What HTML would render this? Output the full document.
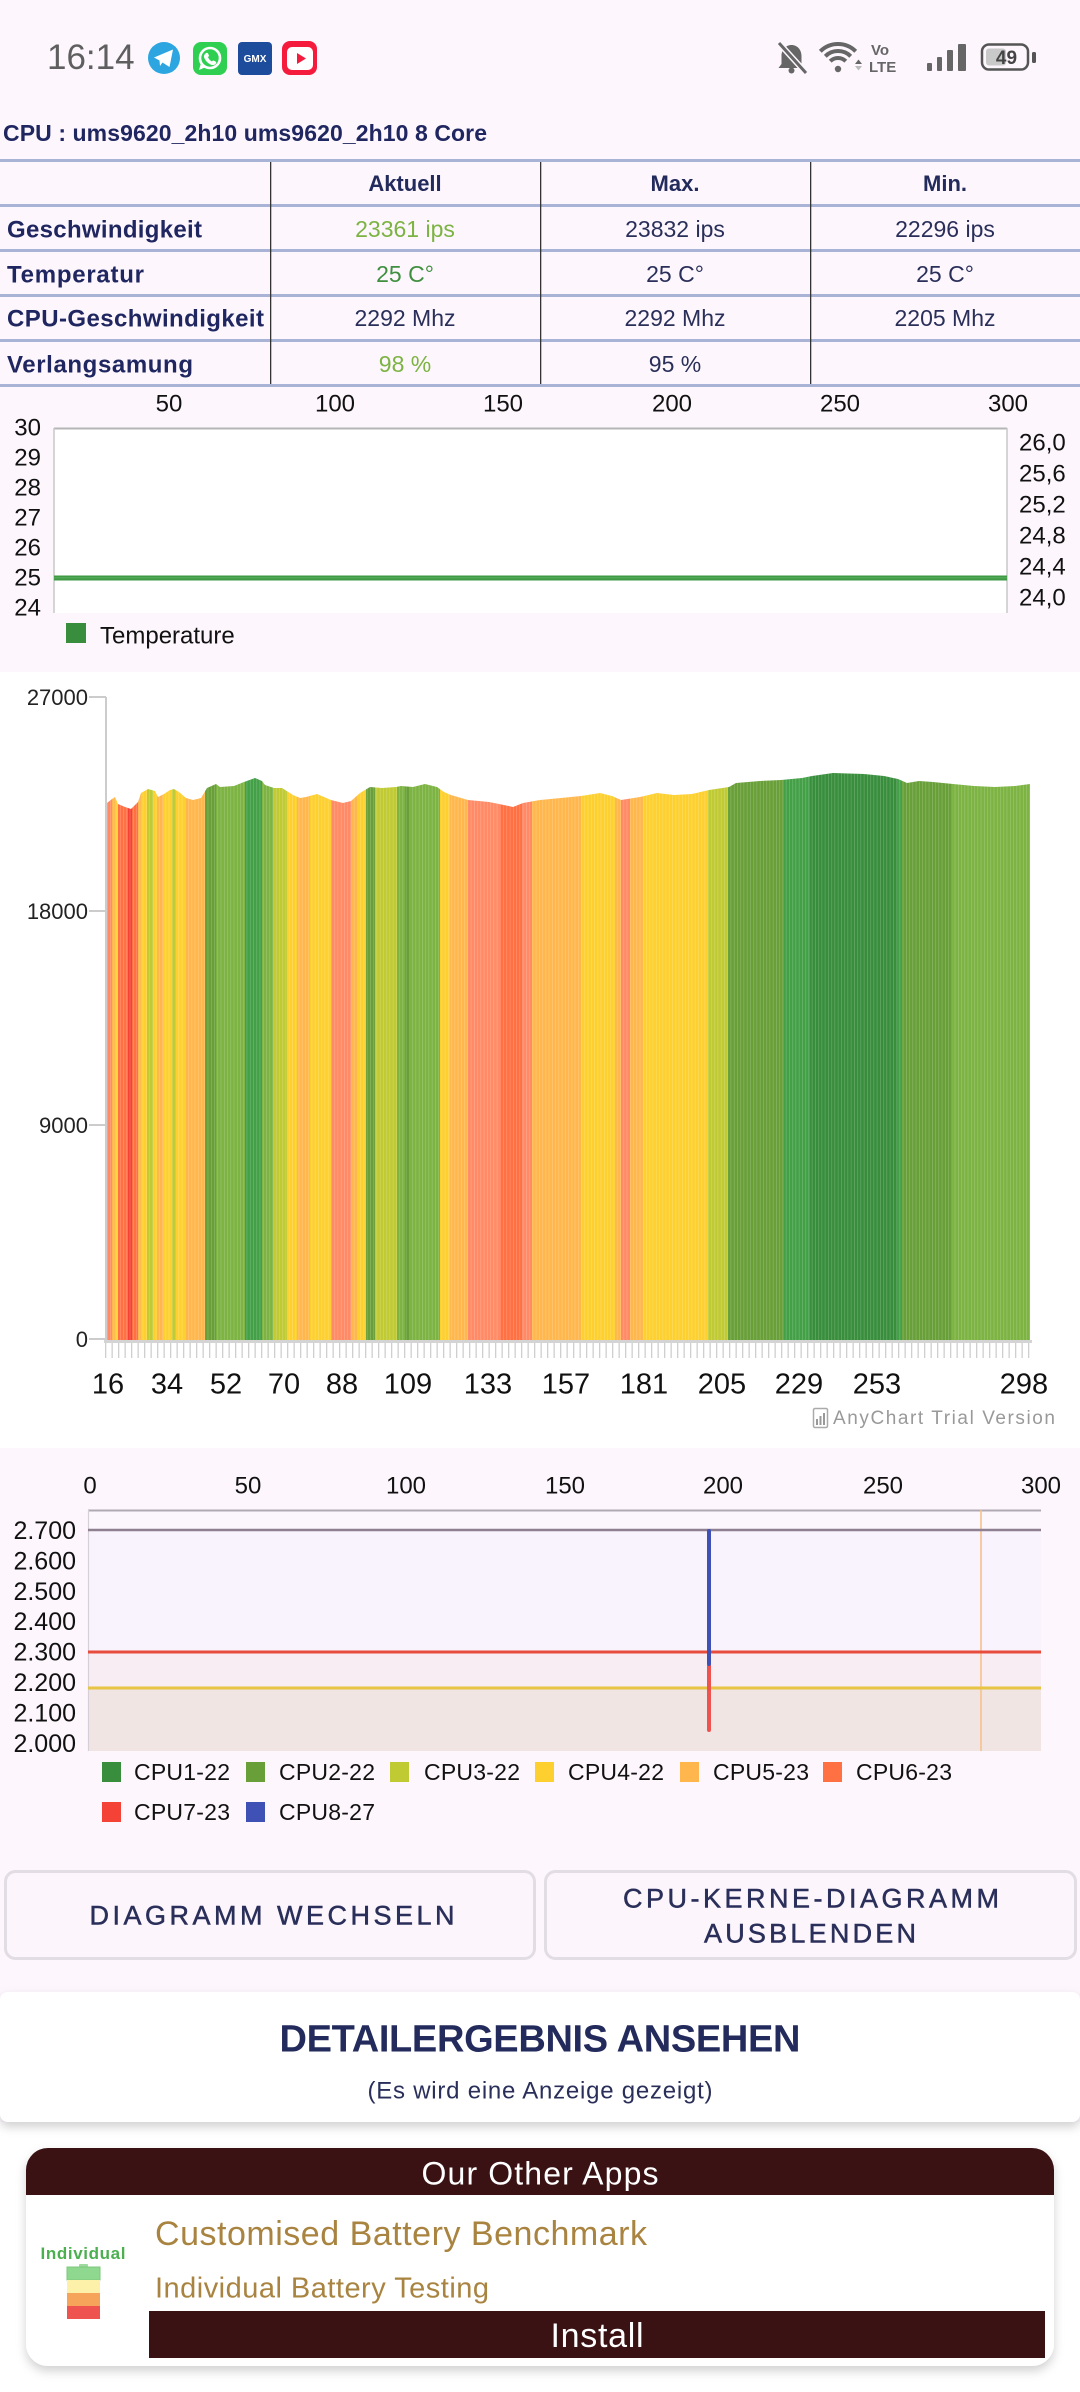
<!DOCTYPE html>
<html><head><meta charset="utf-8">
<style>
html,body{margin:0;padding:0;background:#fdf7fd;}
body{width:1080px;height:2392px;overflow:hidden;}
svg{display:block;font-family:"Liberation Sans",Arial,sans-serif;}
</style></head>
<body>
<svg width="1080" height="2392" viewBox="0 0 1080 2392" xmlns="http://www.w3.org/2000/svg">
<defs>
<clipPath id="bc"><polygon points="107,803 112,799 115,797 118,804 125,807 131,809 136,804 138,802 141,793 148,789 155,791 158,797 164,794 170,790 174,789 179,792 186,798 193,800 201,798 207,788 216,784 220,787 234,786 244,782 255,778 262,781 265,785 274,788 282,788 293,795 300,798 306,797 317,794 331,800 343,803 351,801 360,793 370,787 382,788 396,787 401,786 413,787 425,784 437,787 444,792 451,795 468,800 489,802 499,804 513,807 523,803 540,800 561,798 581,796 600,793 612,796 621,800 640,797 657,793 674,795 692,794 709,790 729,787 736,783 760,781 781,780 802,778 812,776 833,773 864,774 884,776 898,779 907,783 919,781 933,782 953,784 974,786 995,787 1015,786 1030,784 1030,1340 107,1340"/></clipPath>
<pattern id="stripes" x="107" y="0" width="3.248" height="10" patternUnits="userSpaceOnUse"><rect x="0" y="0" width="0.6" height="10" fill="#ffffff" fill-opacity="0.28"/></pattern>
<pattern id="ticks" x="105" y="0" width="6.5" height="20" patternUnits="userSpaceOnUse"><rect x="0" y="0" width="1.3" height="20" fill="#cfcfcf"/></pattern>
<filter id="sh" x="-5%" y="-20%" width="110%" height="150%"><feDropShadow dx="0" dy="5" stdDeviation="5" flood-color="#000" flood-opacity="0.18"/></filter>
</defs>

<!-- page background -->
<rect x="0" y="0" width="1080" height="2392" fill="#fdf7fd"/>

<!-- STATUS BAR -->
<text x="47" y="69" font-size="35" fill="#5f5f5f">16:14</text>
<circle cx="164" cy="58" r="16" fill="#2ca5e0"/>
<polygon points="154,57.5 173,49.5 169.5,67 162.5,62.5 160,66 159.5,60.5" fill="#fff"/>
<rect x="193" y="42" width="34" height="33" rx="8" fill="#2fcf52"/>
<circle cx="210" cy="58" r="10" fill="none" stroke="#fff" stroke-width="2.6"/>
<polygon points="201,63 199,70 206,67" fill="#fff"/>
<path d="M205.5,53.5 q1.5,-1.5 2.5,0 l1,2 q0,1 -1,1.5 q1,3 4,4.5 q0.5,-1 1.5,-1 l2,1 q1.5,1 0,2.5 q-2,2 -5,0.5 q-4,-2 -6,-6 q-1.5,-3 1,-5z" fill="#fff"/>
<rect x="238" y="42" width="34" height="33" rx="4" fill="#1d4c9c"/>
<text x="255" y="62" font-size="10" font-weight="bold" fill="#fff" text-anchor="middle">GMX</text>
<rect x="282" y="41" width="35" height="34" rx="8" fill="#f51b3d"/>
<rect x="287" y="47" width="26" height="23" rx="5" fill="#fff"/>
<polygon points="297,53 297,64 306,58.5" fill="#f51b3d"/>

<path d="M791.5,45 c-6,0 -10,5 -10,11 v8 l-3,4 h26 l-3,-4 v-8 c0,-6 -4,-11 -10,-11z" fill="#666"/>
<circle cx="791.5" cy="70.5" r="3" fill="#666"/>
<line x1="778" y1="42" x2="807" y2="74" stroke="#fdf7fd" stroke-width="6"/>
<line x1="779" y1="43" x2="806" y2="73" stroke="#666" stroke-width="3"/>
<circle cx="838" cy="69" r="3.2" fill="#666"/>
<path d="M830.2,61.2 A11,11 0 0 1 845.8,61.2" fill="none" stroke="#666" stroke-width="4"/>
<path d="M825.3,56.3 A18,18 0 0 1 850.7,56.3" fill="none" stroke="#666" stroke-width="4"/>
<path d="M820.3,51.3 A25,25 0 0 1 855.7,51.3" fill="none" stroke="#666" stroke-width="4"/>
<polygon points="855,64 858.5,59.5 862,64" fill="#666"/>
<polygon points="855,66 858.5,70.5 862,66" fill="#bbb"/>
<text x="871" y="55" font-size="15" font-weight="bold" fill="#666">Vo</text>
<text x="869" y="72" font-size="15" font-weight="bold" fill="#666">LTE</text>
<rect x="927" y="63" width="5" height="8" rx="1" fill="#666"/>
<rect x="937" y="57" width="5" height="14" rx="1" fill="#666"/>
<rect x="947" y="50" width="6" height="21" rx="1" fill="#666"/>
<rect x="958" y="44" width="8" height="27" rx="1" fill="#666"/>
<rect x="982" y="44.5" width="46" height="25" rx="7" fill="none" stroke="#555" stroke-width="2.5"/>
<rect x="986" y="48.5" width="20" height="17" rx="3" fill="#c9c9c9"/>
<rect x="1032" y="52" width="4" height="11" rx="1.5" fill="#555"/>
<text x="1006.5" y="64" font-size="19" font-weight="bold" fill="#444" text-anchor="middle">49</text>

<!-- CPU HEADER -->
<text x="3" y="141" font-size="23" font-weight="bold" fill="#1f2660" textLength="484">CPU : ums9620_2h10 ums9620_2h10 8 Core</text>

<!-- TABLE -->
<g fill="#a9b3d5">
<rect x="0" y="159" width="1080" height="3"/>
<rect x="0" y="204" width="1080" height="3"/>
<rect x="0" y="249" width="1080" height="3"/>
<rect x="0" y="294" width="1080" height="3"/>
<rect x="0" y="339" width="1080" height="3"/>
<rect x="0" y="384" width="1080" height="3"/>
</g>
<g fill="#333">
<rect x="270" y="162" width="1.3" height="222"/>
<rect x="540" y="162" width="1.3" height="222"/>
<rect x="810" y="162" width="1.3" height="222"/>
</g>
<g font-size="22" font-weight="bold" fill="#232a5c" text-anchor="middle">
<text x="405" y="191">Aktuell</text>
<text x="675" y="191">Max.</text>
<text x="945" y="191">Min.</text>
</g>
<g font-size="24" font-weight="bold" fill="#1f2660">
<text x="7" y="237.6" textLength="195">Geschwindigkeit</text>
<text x="7" y="282.6" textLength="137">Temperatur</text>
<text x="7" y="326.6" textLength="257">CPU-Geschwindigkeit</text>
<text x="7" y="372.6" textLength="186">Verlangsamung</text>
</g>
<g font-size="23" text-anchor="middle" fill="#2a2f5a">
<text x="405" y="237.2" fill="#7cb342">23361 ips</text>
<text x="675" y="237.2">23832 ips</text>
<text x="945" y="237.2">22296 ips</text>
<text x="405" y="282.2" fill="#3f8f3f">25 C°</text>
<text x="675" y="282.2">25 C°</text>
<text x="945" y="282.2">25 C°</text>
<text x="405" y="326.2">2292 Mhz</text>
<text x="675" y="326.2">2292 Mhz</text>
<text x="945" y="326.2">2205 Mhz</text>
<text x="405" y="372.2" fill="#7cb342">98 %</text>
<text x="675" y="372.2">95 %</text>
</g>

<!-- TEMPERATURE CHART -->
<g font-size="24" fill="#111" text-anchor="middle">
<text x="169" y="411.6">50</text>
<text x="335" y="411.6">100</text>
<text x="503" y="411.6">150</text>
<text x="672" y="411.6">200</text>
<text x="840" y="411.6">250</text>
<text x="1008" y="411.6">300</text>
</g>
<rect x="54" y="428" width="953" height="185" fill="#fff"/>
<line x1="54" y1="428.5" x2="1007" y2="428.5" stroke="#b5b5b5" stroke-width="2"/>
<line x1="54" y1="428" x2="54" y2="613" stroke="#c8c8c8" stroke-width="1.5"/>
<line x1="1007" y1="428" x2="1007" y2="613" stroke="#c8c8c8" stroke-width="1.5"/>
<rect x="54" y="575.5" width="953" height="5" fill="#3f9a44"/>
<rect x="54" y="577" width="953" height="1.5" fill="#5cb060" opacity="0.6"/>
<g font-size="24" fill="#111" text-anchor="end">
<text x="41" y="435.6">30</text>
<text x="41" y="465.6">29</text>
<text x="41" y="495.6">28</text>
<text x="41" y="525.6">27</text>
<text x="41" y="555.6">26</text>
<text x="41" y="585.6">25</text>
<text x="41" y="615.6">24</text>
</g>
<g font-size="24" fill="#111">
<text x="1019" y="450.6">26,0</text>
<text x="1019" y="481.6">25,6</text>
<text x="1019" y="512.6">25,2</text>
<text x="1019" y="543.6">24,8</text>
<text x="1019" y="574.6">24,4</text>
<text x="1019" y="605.6">24,0</text>
</g>
<rect x="66" y="623" width="20" height="20" fill="#388e3c"/>
<text x="100" y="643.6" font-size="24" fill="#111">Temperature</text>

<!-- BAR CHART SECTION -->
<rect x="0" y="672" width="1080" height="776" fill="#fff"/>
<g clip-path="url(#bc)">
<rect x="107" y="760" width="5" height="580" fill="#ff8a65"/>
<rect x="112" y="760" width="3" height="580" fill="#ffb74d"/>
<rect x="115" y="760" width="3" height="580" fill="#fdd030"/>
<rect x="118" y="760" width="10" height="580" fill="#ff7043"/>
<rect x="128" y="760" width="4" height="580" fill="#f44336"/>
<rect x="132" y="760" width="6" height="580" fill="#ff7043"/>
<rect x="138" y="760" width="3" height="580" fill="#ffb74d"/>
<rect x="141" y="760" width="6" height="580" fill="#fdd030"/>
<rect x="147" y="760" width="6" height="580" fill="#c0ca33"/>
<rect x="153" y="760" width="4" height="580" fill="#fdd030"/>
<rect x="157" y="760" width="6" height="580" fill="#ffb74d"/>
<rect x="163" y="760" width="9" height="580" fill="#fdd030"/>
<rect x="172" y="760" width="4" height="580" fill="#c0ca33"/>
<rect x="176" y="760" width="9" height="580" fill="#fdd030"/>
<rect x="185" y="760" width="20" height="580" fill="#ffb74d"/>
<rect x="205" y="760" width="11" height="580" fill="#689f38"/>
<rect x="216" y="760" width="29" height="580" fill="#7cb342"/>
<rect x="245" y="760" width="17" height="580" fill="#43a047"/>
<rect x="262" y="760" width="11" height="580" fill="#7cb342"/>
<rect x="273" y="760" width="14" height="580" fill="#c0ca33"/>
<rect x="287" y="760" width="10" height="580" fill="#fdd030"/>
<rect x="297" y="760" width="13" height="580" fill="#ffb74d"/>
<rect x="310" y="760" width="21" height="580" fill="#fdd030"/>
<rect x="331" y="760" width="20" height="580" fill="#ff8a65"/>
<rect x="351" y="760" width="7" height="580" fill="#ffb74d"/>
<rect x="358" y="760" width="8" height="580" fill="#fdd030"/>
<rect x="366" y="760" width="9" height="580" fill="#689f38"/>
<rect x="375" y="760" width="22" height="580" fill="#c0ca33"/>
<rect x="397" y="760" width="8" height="580" fill="#7cb342"/>
<rect x="405" y="760" width="5" height="580" fill="#689f38"/>
<rect x="410" y="760" width="30" height="580" fill="#7cb342"/>
<rect x="440" y="760" width="10" height="580" fill="#fdd030"/>
<rect x="450" y="760" width="18" height="580" fill="#ffb74d"/>
<rect x="468" y="760" width="32" height="580" fill="#ff8a65"/>
<rect x="500" y="760" width="22" height="580" fill="#ff7043"/>
<rect x="522" y="760" width="10" height="580" fill="#ff8a65"/>
<rect x="532" y="760" width="49" height="580" fill="#ffb74d"/>
<rect x="581" y="760" width="34" height="580" fill="#fdd030"/>
<rect x="615" y="760" width="6" height="580" fill="#ffb74d"/>
<rect x="621" y="760" width="9" height="580" fill="#ff8a65"/>
<rect x="630" y="760" width="13" height="580" fill="#ffb74d"/>
<rect x="643" y="760" width="65" height="580" fill="#fdd030"/>
<rect x="708" y="760" width="20" height="580" fill="#c0ca33"/>
<rect x="728" y="760" width="56" height="580" fill="#689f38"/>
<rect x="784" y="760" width="26" height="580" fill="#43a047"/>
<rect x="810" y="760" width="87" height="580" fill="#388e3c"/>
<rect x="897" y="760" width="5" height="580" fill="#43a047"/>
<rect x="902" y="760" width="50" height="580" fill="#689f38"/>
<rect x="952" y="760" width="78" height="580" fill="#7cb342"/>
<rect x="107" y="760" width="923" height="580" fill="url(#stripes)"/>
</g>
<line x1="106" y1="697" x2="106" y2="1341" stroke="#cccccc" stroke-width="2"/>
<g stroke="#cccccc" stroke-width="2">
<line x1="89" y1="697" x2="106" y2="697"/>
<line x1="89" y1="911" x2="106" y2="911"/>
<line x1="89" y1="1125" x2="106" y2="1125"/>
<line x1="89" y1="1339" x2="106" y2="1339"/>
</g>
<g font-size="22" fill="#222" text-anchor="end">
<text x="88" y="704.9">27000</text>
<text x="88" y="918.9">18000</text>
<text x="88" y="1132.9">9000</text>
<text x="88" y="1346.9">0</text>
</g>
<rect x="104" y="1340" width="928" height="3" fill="#d4d4d4"/>
<rect x="105" y="1343" width="927" height="15" fill="url(#ticks)"/>
<g font-size="29" fill="#111" text-anchor="middle">
<text x="108" y="1393.4">16</text>
<text x="167" y="1393.4">34</text>
<text x="226" y="1393.4">52</text>
<text x="284" y="1393.4">70</text>
<text x="342" y="1393.4">88</text>
<text x="408" y="1393.4">109</text>
<text x="488" y="1393.4">133</text>
<text x="566" y="1393.4">157</text>
<text x="644" y="1393.4">181</text>
<text x="722" y="1393.4">205</text>
<text x="799" y="1393.4">229</text>
<text x="877" y="1393.4">253</text>
<text x="1024" y="1393.4">298</text>
</g>
<rect x="813.5" y="1408.5" width="14" height="19" rx="1.5" fill="#fff" stroke="#aaa" stroke-width="1.5"/>
<rect x="816" y="1419" width="2" height="6" fill="#999"/>
<rect x="819.5" y="1416" width="2" height="9" fill="#999"/>
<rect x="823" y="1413" width="2" height="12" fill="#999"/>
<text x="833" y="1424" font-size="19" fill="#999" textLength="222">AnyChart Trial Version</text>

<!-- CPU CHART -->
<g font-size="24" fill="#111" text-anchor="middle">
<text x="90" y="1493.6">0</text>
<text x="248" y="1493.6">50</text>
<text x="406" y="1493.6">100</text>
<text x="565" y="1493.6">150</text>
<text x="723" y="1493.6">200</text>
<text x="883" y="1493.6">250</text>
<text x="1041" y="1493.6">300</text>
</g>
<rect x="88" y="1510" width="953" height="241" fill="#fbf7fd"/>
<rect x="88" y="1530" width="953" height="122" fill="#f8f3fc"/>
<rect x="88" y="1652" width="953" height="36" fill="#f8edf2"/>
<rect x="88" y="1688" width="953" height="63" fill="#f1e5e4"/>
<line x1="88" y1="1510.5" x2="1041" y2="1510.5" stroke="#b0a9b4" stroke-width="2"/>
<line x1="88.5" y1="1510" x2="88.5" y2="1751" stroke="#d5cfd8" stroke-width="1.2"/>
<line x1="981" y1="1510" x2="981" y2="1751" stroke="#f7c18a" stroke-width="1.6"/>
<line x1="88" y1="1530" x2="1041" y2="1530" stroke="#8e8090" stroke-width="2.5"/>
<line x1="88" y1="1652" x2="1041" y2="1652" stroke="#e84c3d" stroke-width="3"/>
<line x1="88" y1="1688" x2="1041" y2="1688" stroke="#e8c444" stroke-width="3"/>
<line x1="709" y1="1666" x2="709" y2="1730" stroke="#ef5350" stroke-width="4" stroke-linecap="round"/>
<line x1="709" y1="1531" x2="709" y2="1664" stroke="#3f51b5" stroke-width="4" stroke-linecap="round"/>
<g font-size="25" fill="#111" text-anchor="end">
<text x="76" y="1539">2.700</text>
<text x="76" y="1569.4">2.600</text>
<text x="76" y="1599.8">2.500</text>
<text x="76" y="1630.2">2.400</text>
<text x="76" y="1660.6">2.300</text>
<text x="76" y="1691">2.200</text>
<text x="76" y="1721.4">2.100</text>
<text x="76" y="1751.8">2.000</text>
</g>
<rect x="102" y="1762" width="19" height="20" fill="#388e3c"/>
<rect x="246" y="1762" width="19" height="20" fill="#689f38"/>
<rect x="390" y="1762" width="19" height="20" fill="#c0ca33"/>
<rect x="535" y="1762" width="19" height="20" fill="#fdd030"/>
<rect x="680" y="1762" width="19" height="20" fill="#ffb74d"/>
<rect x="823" y="1762" width="19" height="20" fill="#ff7043"/>
<rect x="102" y="1802" width="19" height="20" fill="#f44336"/>
<rect x="246" y="1802" width="19" height="20" fill="#3f51b5"/>
<g font-size="23" fill="#111">
<text x="134" y="1780.2" textLength="96">CPU1-22</text>
<text x="279" y="1780.2" textLength="96">CPU2-22</text>
<text x="424" y="1780.2" textLength="96">CPU3-22</text>
<text x="568" y="1780.2" textLength="96">CPU4-22</text>
<text x="713" y="1780.2" textLength="96">CPU5-23</text>
<text x="856" y="1780.2" textLength="96">CPU6-23</text>
<text x="134" y="1820.2" textLength="96">CPU7-23</text>
<text x="279" y="1820.2" textLength="96">CPU8-27</text>
</g>

<!-- BUTTONS -->
<rect x="5.5" y="1871.5" width="529" height="87" rx="10" fill="#fcf5fc" stroke="#e2dce4" stroke-width="3"/>
<rect x="545.5" y="1871.5" width="530" height="87" rx="10" fill="#fcf5fc" stroke="#e2dce4" stroke-width="3"/>
<g font-size="27" fill="#2a2f5a" text-anchor="middle" stroke="#2a2f5a" stroke-width="0.5">
<text x="272" y="1924.7" textLength="365">DIAGRAMM WECHSELN</text>
<text x="811" y="1907.7" textLength="376">CPU-KERNE-DIAGRAMM</text>
<text x="810" y="1942.7" textLength="212">AUSBLENDEN</text>
</g>

<!-- DETAIL CARD -->
<rect x="0" y="2122" width="1080" height="270" fill="#fff"/>
<rect x="0" y="1992" width="1080" height="130" rx="8" fill="#fff" filter="url(#sh)"/>
<text x="540" y="2051.6" font-size="38" font-weight="bold" fill="#232a5c" text-anchor="middle" textLength="521">DETAILERGEBNIS ANSEHEN</text>
<text x="540" y="2098.6" font-size="24" fill="#2a2f5a" text-anchor="middle" textLength="345">(Es wird eine Anzeige gezeigt)</text>

<!-- AD CARD -->
<rect x="26" y="2148" width="1028" height="218" rx="22" fill="#fff" filter="url(#sh)"/>
<path d="M26,2195 V2170 a22,22 0 0 1 22,-22 H1032 a22,22 0 0 1 22,22 V2195 Z" fill="#3b1214"/>
<text x="540" y="2184.5" font-size="32" fill="#fff" text-anchor="middle" textLength="237">Our Other Apps</text>
<text x="83" y="2259" font-size="17" font-weight="bold" fill="#4caf50" text-anchor="middle" textLength="85">Individual</text>
<rect x="79" y="2264" width="9" height="3" rx="1" fill="#9ed99e"/>
<rect x="67" y="2267" width="33" height="13" fill="#8fd88f" stroke="#7cc87c" stroke-width="1"/>
<rect x="67" y="2280" width="33" height="13" fill="#fdf0a8"/>
<rect x="67" y="2293" width="33" height="13" fill="#f5a45a"/>
<rect x="67" y="2306" width="33" height="13" fill="#ef5350"/>
<text x="155" y="2245" font-size="34" fill="#a98340" textLength="492">Customised Battery Benchmark</text>
<text x="155" y="2297.4" font-size="29" fill="#a98340" textLength="334">Individual Battery Testing</text>
<rect x="149" y="2311" width="896" height="47" fill="#3b1214"/>
<text x="597" y="2347" font-size="34" fill="#fff" text-anchor="middle" textLength="93">Install</text>
</svg>
</body></html>
